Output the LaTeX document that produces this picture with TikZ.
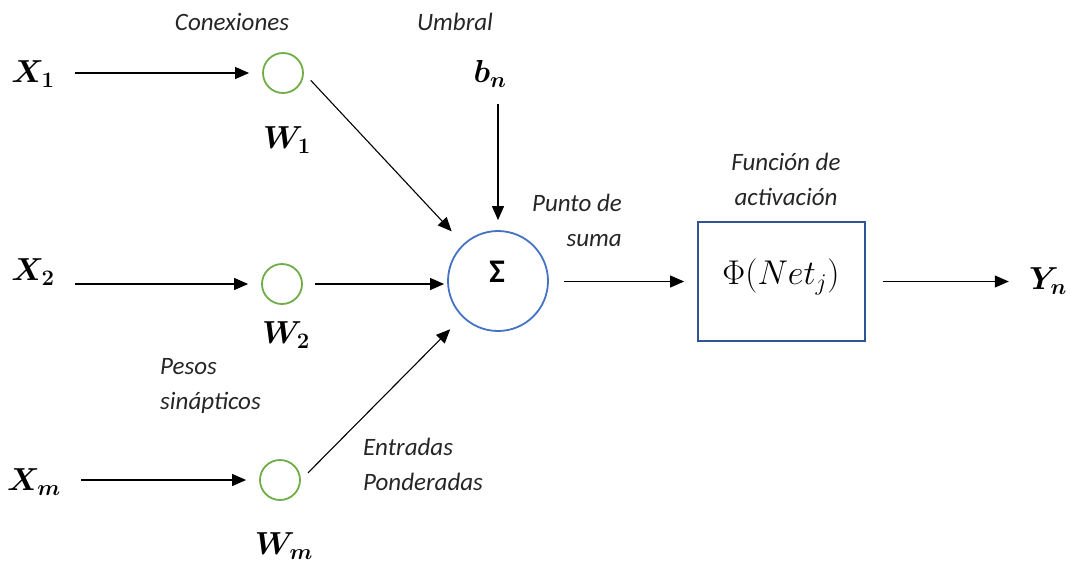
\documentclass[tikz,border=0pt]{standalone}
\usepackage[no-math]{fontspec}
\newfontfamily\lbl{Carlito}
\usetikzlibrary{arrows.meta}
\definecolor{wgreen}{HTML}{70AD47}
\definecolor{sblue}{HTML}{4472C4}
\definecolor{bblue}{HTML}{2F5597}
\begin{document}
\begin{tikzpicture}[x=1pt,y=-1pt,
  note/.style={font=\lbl\itshape\fontsize{25}{35}\selectfont, inner sep=0pt, text=black!85},
  sym/.style={font=\fontsize{24}{26}\selectfont\boldmath, inner sep=0pt, scale=1.28},
  wcirc/.style={circle, draw=wgreen, line width=1.8pt, minimum size=40pt, inner sep=0pt},
  conn/.style={line width=1.1pt, -{Triangle[length=14pt,width=12pt]}}
]
\useasboundingbox (0,0) rectangle (1071,566);
% inputs
\node[sym] (x1) at (33,74) {$X_1$};
\node[sym] (x2) at (33,272) {$X_2$};
\node[sym] (xm) at (34,482) {$X_m$};
% weights
\node[wcirc] (w1) at (283,73) {};
\node[wcirc] (w2) at (282,284) {};
\node[wcirc] (wm) at (280,480) {};
\node[sym] (lw1) at (287,140) {$W_1$};
\node[sym] (lw2) at (286,335) {$W_2$};
\node[sym] (lwm) at (284,546) {$W_m$};
% sum
\node[circle, draw=sblue, line width=1.8pt, minimum size=100pt, inner sep=0pt] (sig) at (498,281) {};
\node[font=\lbl\bfseries\fontsize{33}{35}\selectfont, inner sep=0pt] (sigt) at (497,272) {Σ};
\node[sym] (bn) at (490,74) {$b_n$};
% activation box
\node[draw=bblue, line width=1.8pt, minimum width=167pt, minimum height=119pt, inner sep=0pt] (act) at (781.5,281.5) {};
\node[font=\fontsize{24}{28}\selectfont, inner sep=0pt, scale=1.38] (phi) at (781,277) {$\Phi(Net_j)$};
\node[sym] (yn) at (1048,281) {$Y_n$};
% labels
\node[note] (conex) at (232,22) {Conexiones};
\node[note] (umb) at (455,22) {Umbral};
\node[note, align=right, anchor=north east] (punto) at (622,194) {Punto de\\suma};
\node[note, align=center] (func) at (786,179) {Función de\\activación};
\node[note, align=left, anchor=north west] (pesos) at (160,358) {Pesos\\sinápticos};
\node[note, align=left, anchor=north west] (entr) at (363,438) {Entradas\\Ponderadas};
% connectors
\draw[conn, shorten <=20pt, shorten >=13pt] (x1.east |- w1) -- (w1);
\draw[conn, shorten <=20pt, shorten >=13pt] (x2.east |- w2) -- (w2);
\draw[conn, shorten <=20pt, shorten >=13pt] (xm.east |- wm) -- (wm);
\draw[conn, shorten <=10pt, shorten >=17pt] (w1.east) -- (sig);
\draw[conn, shorten <=12pt, shorten >=3pt] (w2.east) -- (sig.west |- w2);
\draw[conn, shorten <=10pt, shorten >=17pt] (wm.east) -- (sig);
\draw[conn, shorten <=16pt, shorten >=10pt] (bn.south -| sig) -- (sig);
\draw[conn, shorten <=15pt, shorten >=13pt] (sig.east |- act) -- (act);
\draw[conn, shorten <=17pt, shorten >=20pt] (act.east) -- (yn.west |- act);
\end{tikzpicture}
\end{document}
